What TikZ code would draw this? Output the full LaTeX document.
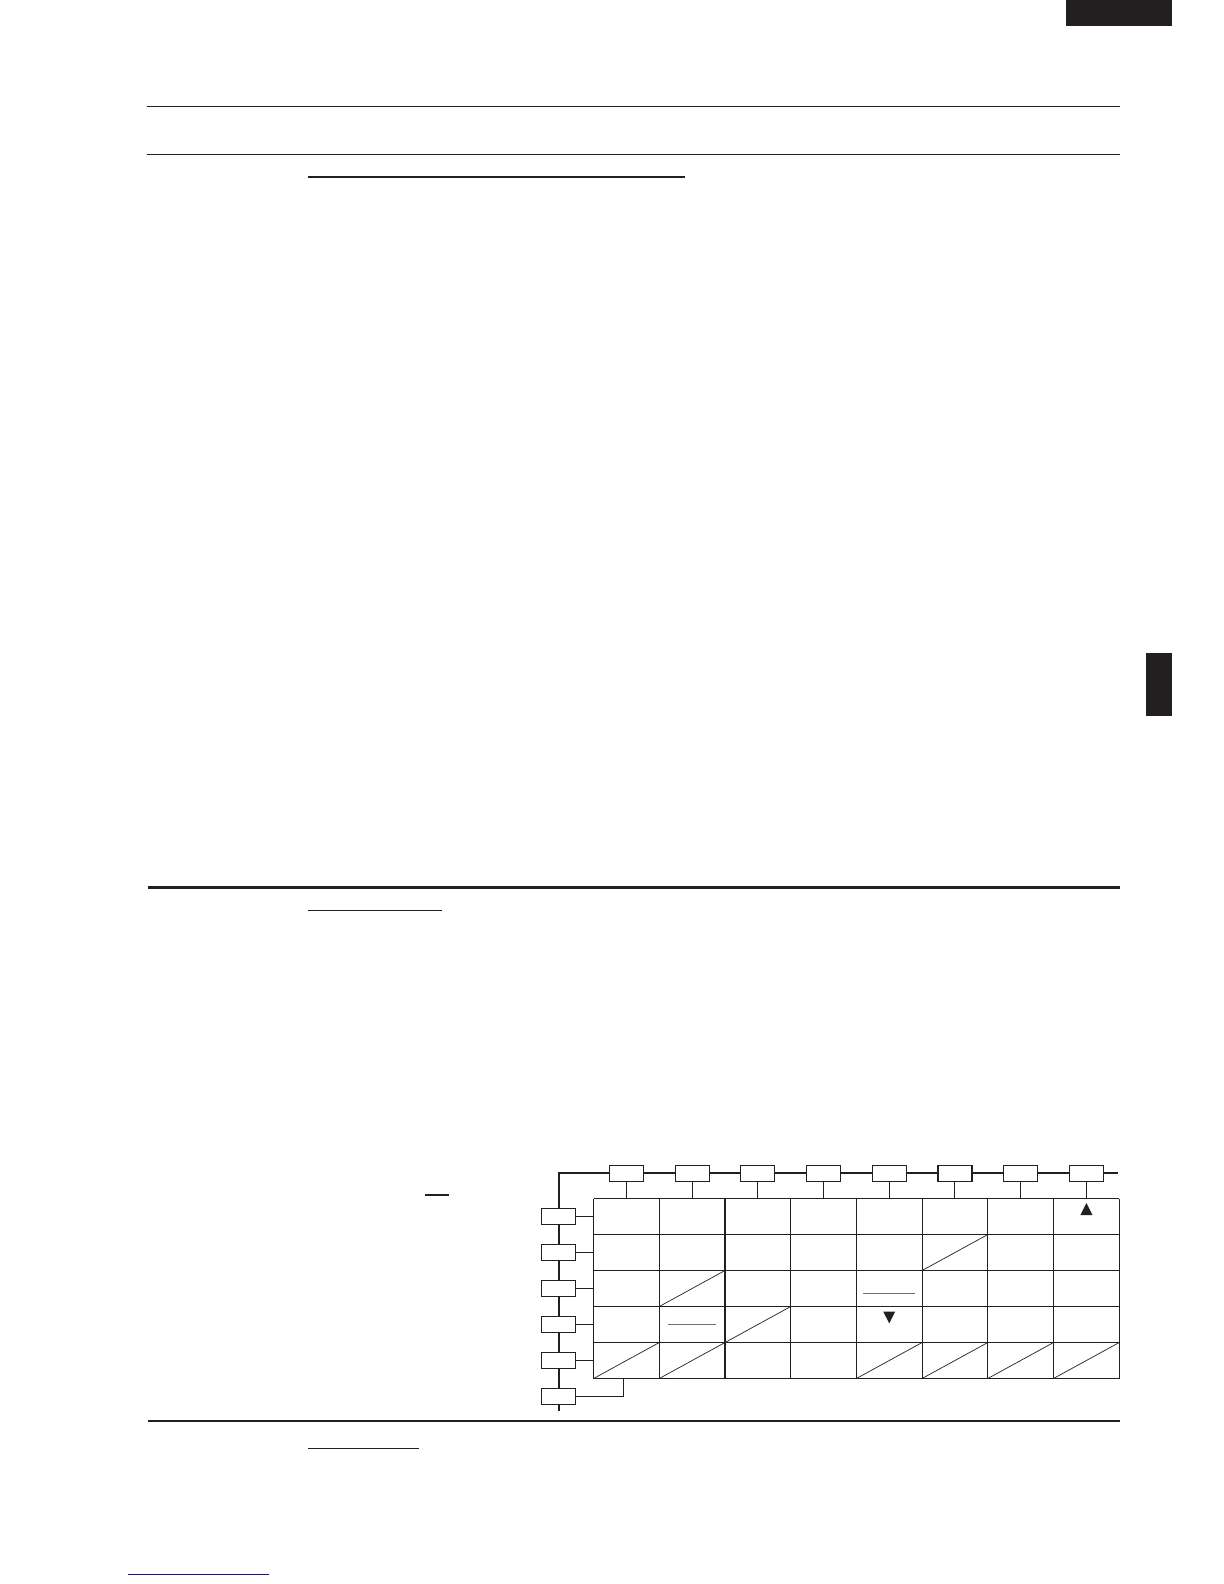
\documentclass[tikz,border=0pt]{standalone}
\usepackage{tikz}
\definecolor{inkc}{RGB}{35,31,32}
\definecolor{rulegray}{RGB}{110,110,110}
\definecolor{linkblue}{RGB}{20,20,150}
\begin{document}
\begin{tikzpicture}[x=0.5pt,y=-0.5pt,
  thinrule/.style={draw=inkc,line width=0.55pt},
  thickrule/.style={draw=inkc,line width=1.05pt},
  bluerule/.style={draw=linkblue,line width=0.6pt},
  bus/.style={draw=inkc,line width=1.0pt,line join=miter},
  gridline/.style={draw=inkc,line width=0.55pt},
  stub/.style={draw=inkc,line width=0.5pt},
  diag/.style={draw=inkc,line width=0.35pt},
  dash line/.style={draw=rulegray,line width=0.6pt},
  busbox/.style={draw=inkc,fill=white,line width=0.55pt,minimum width=17pt,minimum height=8pt,inner sep=0pt,outer sep=0pt},
  mark fill/.style={fill=inkc}]
\useasboundingbox (0,0) rectangle (1224,1584);
\fill[white] (0,0) rectangle (1224,1584);
% tabs
\fill[inkc] (1066,0) rectangle (1172,26);
\fill[inkc] (1146,653) rectangle (1172,716);
% rules
\draw[thinrule] (147,106.3) -- (1120,106.3);
\draw[thinrule] (147,154.3) -- (1120,154.3);
\draw[thinrule] (308,177) -- (685,177);
\draw[thickrule] (148,887.5) -- (1120,887.5);
\draw[thinrule] (308,910.3) -- (442,910.3);
\draw[thickrule] (148,1420.7) -- (1120,1420.7);
\draw[thinrule] (308,1448.3) -- (419,1448.3);
\draw[thinrule] (425,1195) -- (449,1195);
\draw[bluerule] (127.5,1574.7) -- (268.7,1574.7);
% grid
\def\gx{593.6}\def\gw{65.7}\def\gy{1198.5}\def\gh{36}
\coordinate (gtop) at (\gx,\gy);
\coordinate (gleft) at (\gx,\gy);
\coordinate (gbot) at (\gx,{\gy+5*\gh});
\foreach \i in {0,...,8}
  \draw[gridline] ({\gx+\i*\gw},\gy) -- ({\gx+\i*\gw},{\gy+5*\gh});
\foreach \j in {0,...,5}
  \draw[gridline] (\gx,{\gy+\j*\gh}) -- ({\gx+8*\gw},{\gy+\j*\gh});
% diagonals (col,row), 0-based
\foreach \c/\r in {5/1,1/2,2/3,0/4,1/4,4/4,5/4,6/4,7/4}
  \draw[diag] ({\gx+\c*\gw},{\gy+(\r+1)*\gh}) -- ({\gx+(\c+1)*\gw},{\gy+\r*\gh});
% short gray lines
\draw[dash line] (863.2,1293.3) -- (914.9,1293.3);
\draw[dash line] (668.4,1324.3) -- (715.9,1324.3);
% triangles
\fill[mark fill] (1086.4,1203) -- (1080.4,1215) -- (1092.4,1215) -- cycle;
\fill[mark fill] (883.2,1311.5) -- (895.2,1311.5) -- (889.2,1323.3) -- cycle;
% buses
\coordinate (busend) at (1118,1172.7);
\coordinate (buscorner) at (558.5,1172.7);
\coordinate (busbottom) at (558.5,1411);
\draw[bus] (busend) -- (buscorner) -- (busbottom);
% top boxes
\foreach \i in {1,...,8} {
  \node[busbox] (t\i) at ({\gx+(\i-0.5)*\gw},1173.3) {};
  \draw[stub] (t\i.south) -- (t\i.south |- gtop);
}
% left boxes
\foreach \k in {1,...,5} {
  \node[busbox] (l\k) at (558.4,{\gy+(\k-0.5)*\gh}) {};
  \draw[stub] (l\k.east) -- (l\k.east -| gleft);
}
\node[busbox] (l6) at (558.4,1396.5) {};
\coordinate (l6up) at (623,1396.5);
\draw[stub] (l6.east) -- (l6up) -- (l6up |- gbot);
\end{tikzpicture}
\end{document}
